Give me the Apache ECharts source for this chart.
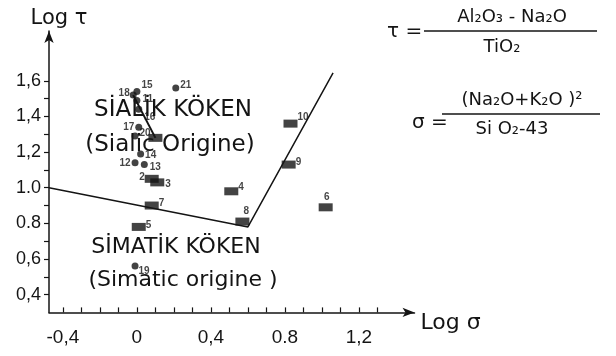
<!DOCTYPE html>
<html><head><meta charset="utf-8">
<script src="https://cdn.jsdelivr.net/npm/echarts@6/dist/echarts.min.js"></script>
<style>html,body{margin:0;padding:0;background:#fff}#c{width:616px;height:356px}</style>
</head><body><div id="c"></div>
<script>
// ---- data ----
const squareNames = ['1','2','3','4','5','6','7','8','9','10'];
const squareX = [0.10, 0.08, 0.11, 0.51, 0.01, 1.02, 0.08, 0.57, 0.82, 0.83];
const squareY = [1.28, 1.05, 1.03, 0.98, 0.78, 0.89, 0.90, 0.81, 1.13, 1.36];
const dotNames = ['11','12','13','14','15','16','17','18','19','20','21'];
const dotX = [0.00, -0.01, 0.04, 0.02, 0.00, 0.01, 0.01, -0.02, -0.01, -0.01, 0.21];
const dotY = [1.49, 1.14, 1.13, 1.19, 1.54, 1.44, 1.34, 1.52, 0.56, 1.29, 1.56];
const boundaryX = [-0.475, 0.60, 1.06];
const boundaryY = [1.00, 0.78, 1.645];
const linkFrom = '18', linkTo = '1';
const xTickValues = [-0.4,-0.3,-0.2,-0.1,0,0.1,0.2,0.3,0.4,0.5,0.6,0.7,0.8,0.9,1.0,1.1,1.2,1.3];
const xLabelValues = [-0.4, 0, 0.4, 0.8, 1.2];
const xLabelTexts = ['-0,4', '0', '0,4', '0.8', '1,2'];
const yTickValues = [0.4,0.5,0.6,0.7,0.8,0.9,1.0,1.1,1.2,1.3,1.4,1.5,1.6];
const yLabelValues = [0.4, 0.6, 0.8, 1.0, 1.2, 1.4, 1.6];
const yLabelTexts = ['0,4', '0,6', '0.8', '1.0', '1,2', '1,4', '1,6'];

// ---- label placement (style) ----
const labelPlace = {
  '1': null, '2': ['left',[2,-2]], '3': ['right',[-1,2]], '4': ['right',[-2,-4]], '5': ['right',[-2,-2]],
  '6': ['top',[1,1]], '7': ['right',[-2,-2]], '8': ['top',[4,1]], '9': ['right',[-2,-2]], '10': ['right',[-2,-6]],
  '11': ['right',[0,-1]], '12': ['left',[1,0]], '13': ['right',[0,3]], '14': ['right',[-1,1]],
  '15': ['right',[-1,-6]], '16': ['right',[0,8]], '17': ['left',[1,0]], '18': ['left',[2,-2]],
  '19': ['right',[-2,5]], '20': ['right',[-1,-3]], '21': ['right',[-1,-3]]
};

const ink = '#141414';
const fam = 'DejaVu Sans';
function pick(vals, texts, v) {
  for (let i = 0; i < vals.length; i++) if (Math.abs(vals[i] - v) < 1e-6) return texts[i];
  return '';
}
function makePoints(names, xs, ys) {
  return names.map((n, i) => {
    const p = labelPlace[n];
    return {
      name: n, value: [xs[i], ys[i]],
      label: p ? { show: true, position: p[0], offset: p[1], formatter: n } : { show: false }
    };
  });
}
const sqIdx = squareNames.indexOf(linkTo), dtIdx = dotNames.indexOf(linkFrom);
const chart = echarts.init(document.getElementById('c'), null, { renderer: 'canvas' });
const pointLabel = { color: ink, fontSize: 10, fontWeight: 'bold', fontFamily: 'Liberation Sans', distance: 2 };
chart.setOption({
  animation: false,
  backgroundColor: '#fff',
  grid: { left: 49, right: 201.5, top: 31, bottom: 43.6 },
  xAxis: {
    type: 'value', min: -0.475, max: 1.5,
    name: 'Log σ', nameLocation: 'end', nameGap: 6,
    nameTextStyle: { color: ink, fontSize: 22, fontFamily: fam, verticalAlign: 'top', padding: [0, 0, 0, 0] },
    axisLine: { show: true, onZero: false, lineStyle: { color: ink, width: 1.5 }, symbol: ['none', 'arrow'], symbolSize: [7, 12] },
    axisTick: { show: true, inside: true, length: 5, customValues: xTickValues, lineStyle: { color: ink, width: 1.2 } },
    axisLabel: { customValues: xLabelValues, margin: 16, color: ink, fontSize: 19, fontFamily: 'Liberation Sans',
      formatter: v => pick(xLabelValues, xLabelTexts, v) },
    splitLine: { show: false }
  },
  yAxis: {
    type: 'value', min: 0.3, max: 1.88,
    name: 'Log τ', nameLocation: 'end', nameGap: 2,
    nameTextStyle: { color: ink, fontSize: 21, fontFamily: fam, align: 'center', padding: [0, 0, 0, 20] },
    axisLine: { show: true, onZero: false, lineStyle: { color: ink, width: 1.5 }, symbol: ['none', 'arrow'], symbolSize: [7, 12] },
    axisTick: { show: true, inside: false, length: 5, customValues: yTickValues, lineStyle: { color: ink, width: 1.2 } },
    axisLabel: { customValues: yLabelValues, margin: 8, color: ink, fontSize: 18, fontFamily: 'Liberation Sans',
      formatter: v => pick(yLabelValues, yLabelTexts, v) },
    splitLine: { show: false }
  },
  series: [
    { type: 'line', data: boundaryX.map((x, i) => [x, boundaryY[i]]), symbol: 'none',
      lineStyle: { color: ink, width: 1.5 }, z: 1 },
    { type: 'line', data: [[dotX[dtIdx], dotY[dtIdx]], [squareX[sqIdx], squareY[sqIdx]]], symbol: 'none',
      lineStyle: { color: ink, width: 2 }, z: 1 },
    { type: 'scatter', data: makePoints(squareNames, squareX, squareY), symbol: 'rect', symbolSize: [14, 8],
      itemStyle: { color: ink }, label: pointLabel, z: 3 },
    { type: 'scatter', data: makePoints(dotNames, dotX, dotY), symbol: 'circle', symbolSize: 7,
      itemStyle: { color: ink }, label: pointLabel, z: 3 }
  ],
  graphic: [
    { type: 'text', x: 173, y: 110, style: { text: 'SİALİK KÖKEN', fill: ink, font: '23px "DejaVu Sans"', align: 'center', verticalAlign: 'middle' } },
    { type: 'text', x: 170, y: 145, style: { text: '(Sialic Origine)', fill: ink, font: '23px "DejaVu Sans"', align: 'center', verticalAlign: 'middle' } },
    { type: 'text', x: 176, y: 247, style: { text: 'SİMATİK KÖKEN', fill: ink, font: '22px "DejaVu Sans"', align: 'center', verticalAlign: 'middle' } },
    { type: 'text', x: 183, y: 280, style: { text: '(Simatic origine )', fill: ink, font: '22px "DejaVu Sans"', align: 'center', verticalAlign: 'middle' } },
    { type: 'text', x: 387, y: 32, style: { text: 'τ =', fill: ink, font: '20px "DejaVu Sans"', align: 'left', verticalAlign: 'middle' } },
    { type: 'line', shape: { x1: 424, y1: 31, x2: 597, y2: 31 }, style: { stroke: ink, lineWidth: 1.5 } },
    { type: 'text', x: 512, y: 17, style: { text: 'Al₂O₃ - Na₂O', fill: ink, font: '18px "DejaVu Sans"', align: 'center', verticalAlign: 'middle' } },
    { type: 'text', x: 502, y: 47, style: { text: 'TiO₂', fill: ink, font: '18px "DejaVu Sans"', align: 'center', verticalAlign: 'middle' } },
    { type: 'text', x: 412, y: 123, style: { text: 'σ =', fill: ink, font: '20px "DejaVu Sans"', align: 'left', verticalAlign: 'middle' } },
    { type: 'line', shape: { x1: 442, y1: 114, x2: 600, y2: 114 }, style: { stroke: ink, lineWidth: 1.5 } },
    { type: 'text', x: 522, y: 100, style: { text: '(Na₂O+K₂O )²', fill: ink, font: '18px "DejaVu Sans"', align: 'center', verticalAlign: 'middle' } },
    { type: 'text', x: 512, y: 129, style: { text: 'Si O₂-43', fill: ink, font: '18px "DejaVu Sans"', align: 'center', verticalAlign: 'middle' } }
  ]
});
</script>
</body></html>
